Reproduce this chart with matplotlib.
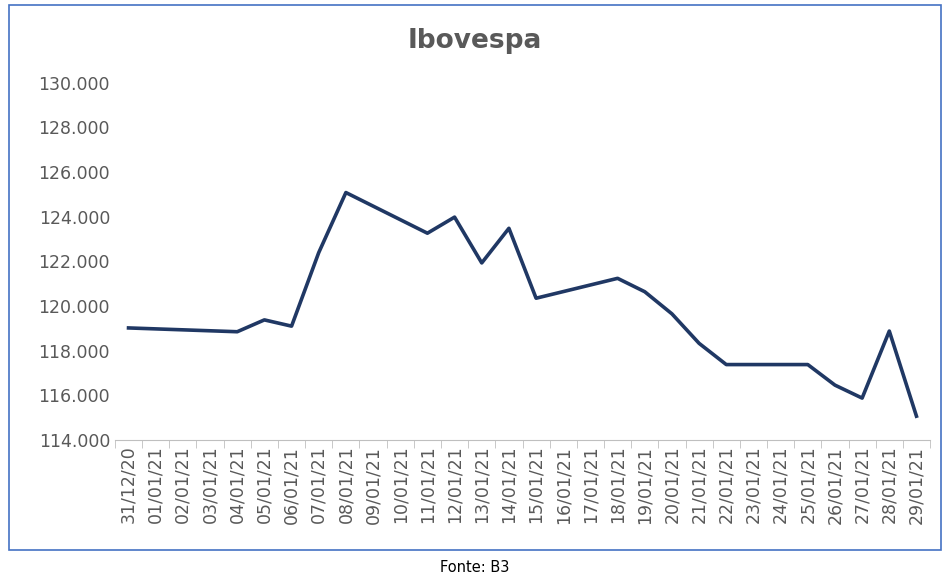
import numpy as np
import matplotlib.pyplot as plt
from matplotlib.patches import Rectangle
from matplotlib.ticker import FuncFormatter

labels = ['31/12/20'] + ['%02d/01/21' % d for d in range(1, 30)]
trade_days = ['31/12/20', '04/01/21', '05/01/21', '06/01/21', '07/01/21', '08/01/21',
              '11/01/21', '12/01/21', '13/01/21', '14/01/21', '15/01/21', '18/01/21',
              '19/01/21', '20/01/21', '21/01/21', '22/01/21', '25/01/21', '26/01/21',
              '27/01/21', '28/01/21', '29/01/21']
ibov = [119.02, 118.85, 119.38, 119.10, 122.39, 125.08, 123.26, 123.98, 121.93, 123.48,
        120.35, 121.24, 120.64, 119.65, 118.33, 117.38, 117.38, 116.46, 115.88, 118.88, 115.07]

fig = plt.figure(figsize=(9.5, 5.86), dpi=100)
ax = fig.add_axes([0.121, 0.249, 0.858, 0.61])

x = [labels.index(d) for d in trade_days]
ax.plot(x, ibov, color='#203864', lw=2.6, solid_joinstyle='round')

ax.set_xlim(-0.5, len(labels) - 0.5)
ax.set_ylim(114, 130)
ax.set_yticks(np.arange(114, 131, 2))
ax.yaxis.set_major_formatter(FuncFormatter(lambda v, p: '%d.000' % v))
ax.set_xticks(range(len(labels)))
ax.set_xticklabels(labels, rotation=90)
ax.set_xticks(np.arange(-0.5, len(labels), 1), minor=True)
ax.tick_params(axis='x', which='major', length=0, labelsize=12.5, colors='#595959', pad=4)
ax.tick_params(axis='x', which='minor', length=6, color='#bfbfbf', direction='out')
ax.tick_params(axis='y', length=0, labelsize=12.5, colors='#595959')
for s in ['top', 'right', 'left']:
    ax.spines[s].set_visible(False)
ax.spines['bottom'].set_color('#bfbfbf')

fig.text(0.5, 0.93, 'Ibovespa', ha='center', va='center', fontsize=19,
         fontweight='bold', color='#595959')
fig.text(0.5, 0.032, 'Fonte: B3', ha='center', va='center', fontsize=10.5)
fig.patches.append(Rectangle((0.009, 0.062), 0.982, 0.93, transform=fig.transFigure,
                             fill=False, edgecolor='#4472c4', lw=1.2))

fig.savefig('out.png', dpi=100)
